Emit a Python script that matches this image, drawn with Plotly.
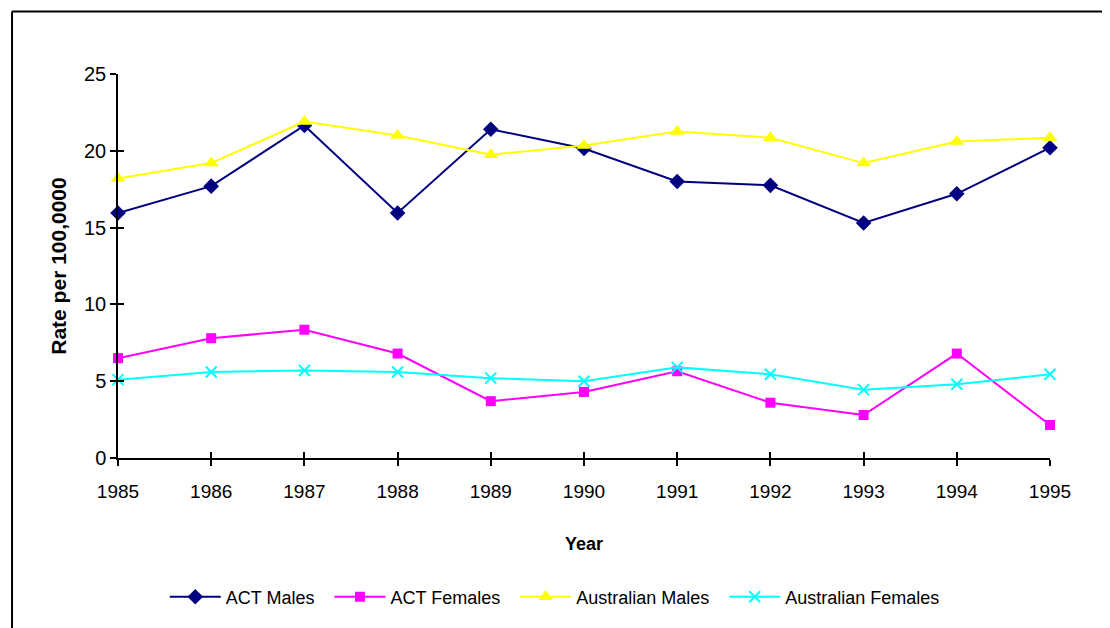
import plotly.graph_objects as go

# Data (rate per 100,000)
years = [1985, 1986, 1987, 1988, 1989, 1990, 1991, 1992, 1993, 1994, 1995]
act_males = [15.95, 17.7, 21.65, 15.95, 21.4, 20.15, 18.0, 17.75, 15.3, 17.2, 20.2]
act_females = [6.5, 7.8, 8.35, 6.8, 3.7, 4.3, 5.65, 3.6, 2.8, 6.8, 2.15]
aus_males = [18.2, 19.2, 21.9, 21.0, 19.75, 20.35, 21.25, 20.85, 19.2, 20.6, 20.85]
aus_females = [5.1, 5.6, 5.7, 5.6, 5.2, 5.0, 5.9, 5.45, 4.45, 4.8, 5.45]

title_text = "Figure 4: Suicide rates in the ACT and Australia, by sex, 1985\u20131995"

FONT = "Arial, Liberation Sans, sans-serif"
NBSP = "\u00a0"

series = [
    ("ACT Males", act_males, "#000080", "diamond", 12),
    ("ACT Females", act_females, "#FF00FF", "square", 10),
    ("Australian Males", aus_males, "#FFFF00", "triangle-up", 13),
    ("Australian Females", aus_females, "#00FFFF", "x-thin-open", 11),
]

fig = go.Figure()

for name, vals, color, symbol, size in series:
    marker = dict(symbol=symbol, size=size, color=color)
    if symbol == "x-thin-open":
        marker["line"] = dict(color=color, width=2)
    fig.add_trace(go.Scatter(
        x=years, y=vals, name=name + NBSP * 2, mode="lines+markers",
        line=dict(color=color, width=2),
        marker=marker,
        cliponaxis=False,
    ))

# invisible trace so the overlay axes (inner half of the cross ticks) get drawn
fig.add_trace(go.Scatter(x=[None], y=[None], xaxis="x2", yaxis="y2",
                         showlegend=False, hoverinfo="skip"))

axis_common = dict(showgrid=False, zeroline=False, tickcolor="black",
                   tickwidth=1.5, ticklen=6)

# frame around the chart: only its top and left edges are inside the picture
frame = dict(type="line", xref="paper", yref="paper",
             line=dict(color="black", width=2))

# the page body has an 8px margin: figure is 8px smaller so nothing overflows,
# and margins are shifted to keep the plot area where the reference has it
fig.update_layout(
    width=1102, height=620,
    paper_bgcolor="white", plot_bgcolor="white",
    margin=dict(l=110, r=60, t=66, b=165),
    font=dict(family=FONT, color="black"),
    showlegend=True,
    xaxis=dict(
        range=[1985, 1995], tickmode="array", tickvals=years,
        ticks="outside", showline=True, linecolor="black", linewidth=1.5,
        tickfont=dict(size=19, family=FONT), ticklabelstandoff=9,
        title=dict(text="<b>Year</b>", font=dict(size=18, family=FONT), standoff=37),
        **axis_common,
    ),
    yaxis=dict(
        range=[0, 25], dtick=5, ticks="outside", showline=True,
        linecolor="black", linewidth=1.5,
        tickfont=dict(size=20, family=FONT),
        title=dict(text="<b>Rate per 100,0000</b>", font=dict(size=21, family=FONT), standoff=12),
        **axis_common,
    ),
    xaxis2=dict(range=[1985, 1995], overlaying="x", anchor="y", side="bottom",
                tickmode="array", tickvals=years, ticks="inside",
                showticklabels=False, showline=False, **axis_common),
    yaxis2=dict(range=[0, 25], dtick=5, overlaying="y", anchor="x", side="left",
                ticks="inside", showticklabels=False, showline=False, **axis_common),
    legend=dict(
        orientation="h", xref="paper", yref="paper",
        x=0.474, xanchor="center", y=-0.362, yanchor="middle",
        font=dict(size=18, family=FONT), itemwidth=51,
        bgcolor="rgba(0,0,0,0)",
    ),
    shapes=[
        dict(frame, x0=-0.1137, x1=1.2, y0=1.1628, y1=1.1628),
        dict(frame, x0=-0.1137, x1=-0.1137, y0=-0.6, y1=1.1628),
    ],
    annotations=[dict(
        text="<b>" + title_text + "</b>", xref="paper", yref="paper",
        x=-0.108, y=1.1705, xanchor="left", yanchor="bottom", showarrow=False,
        font=dict(size=19, family="Liberation Serif, Times New Roman, serif"),
    )],
)

fig.write_html("out.html")
